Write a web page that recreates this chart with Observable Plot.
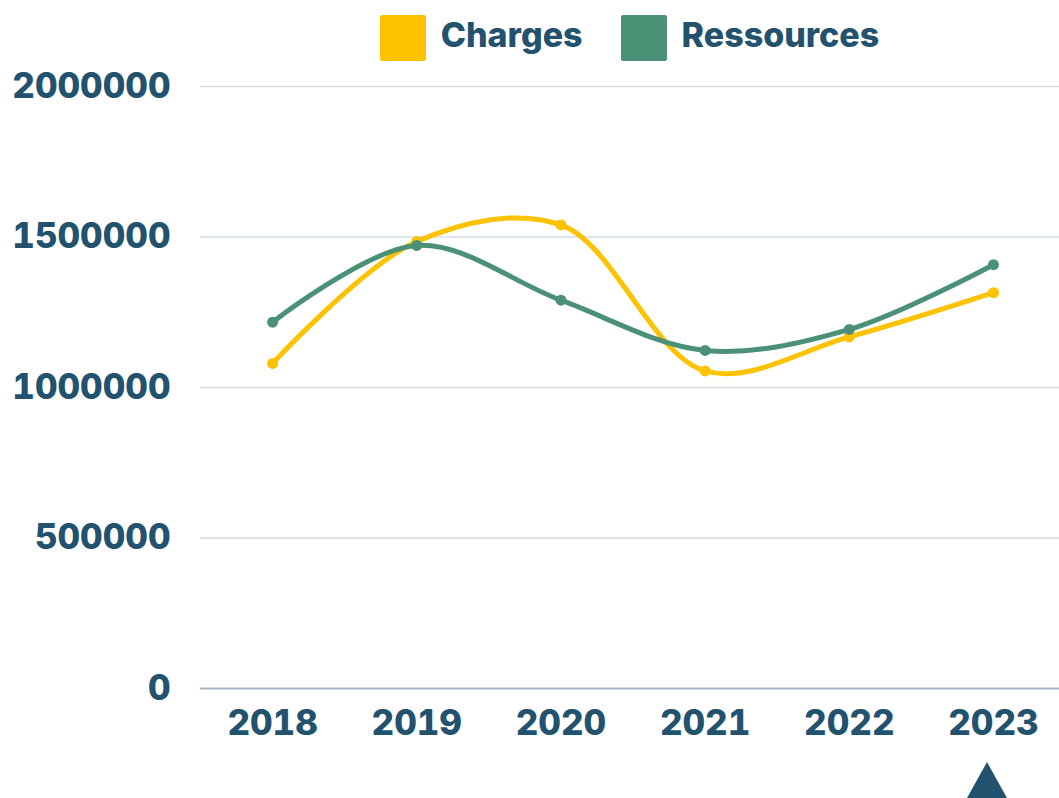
<!DOCTYPE html>
<html>
<head>
<meta charset="utf-8">
<script src="https://cdn.jsdelivr.net/npm/d3@7"></script>
<script src="https://cdn.jsdelivr.net/npm/@observablehq/plot@0.6"></script>
<style>
  html, body { margin: 0; padding: 0; background: #fff; overflow: hidden; }
  body { width: 1059px; height: 798px; position: relative; font-family: Inter, sans-serif; }
  #legend { position: absolute; left: 200px; right: 0; top: 0; height: 75px; display: flex; justify-content: center; align-items: flex-start; box-sizing: border-box; padding-top: 15px; }
  .item { display: flex; align-items: center; margin: 0 19px; }
  .sw { width: 46px; height: 46px; border-radius: 2px; margin-right: 15px; }
  .lab { font-size: 34px; font-weight: 800; color: #23526f; line-height: 40px; margin-top: -6px; }
  #caret { position: absolute; left: 967px; top: 762px; width: 0; height: 0;
    border-left: 20px solid transparent; border-right: 20px solid transparent; border-bottom: 36px solid #23526f; }
</style>
</head>
<body>
<div id="chart"></div>
<div id="legend"></div>
<div id="caret"></div>
<script>
const years = [2018, 2019, 2020, 2021, 2022, 2023];
const charges = [1080000, 1485000, 1540000, 1055000, 1168000, 1315000];
const ressources = [1217000, 1472000, 1290000, 1123000, 1193000, 1408000];
const seriesNames = ["Charges", "Ressources"];
const seriesColors = ["#fdc300", "#4a9176"];
const yTicks = [0, 500000, 1000000, 1500000, 2000000];

const data = [];
years.forEach((yr, i) => {
  data.push({year: yr, value: charges[i], series: seriesNames[0]});
  data.push({year: yr, value: ressources[i], series: seriesNames[1]});
});

const legend = document.getElementById("legend");
seriesNames.forEach((n, i) => {
  const it = document.createElement("div");
  it.className = "item";
  it.innerHTML = `<div class="sw" style="background:${seriesColors[i]}"></div><div class="lab">${n}</div>`;
  legend.appendChild(it);
});

const textColor = "#23526f";
const chart = Plot.plot({
  width: 1059,
  height: 798,
  marginTop: 86,
  marginBottom: 110,
  marginLeft: 200,
  marginRight: 0,
  style: {fontFamily: "Inter, sans-serif", fontSize: "35px", fontWeight: 800, color: textColor, background: "#fff"},
  x: {domain: [2017.5, 2023.458], ticks: years, tickFormat: d => String(d), tickSize: 0, tickPadding: 22, label: null},
  y: {domain: [0, 2000000], ticks: yTicks, tickFormat: d => String(d), tickSize: 0, tickPadding: 30, label: null},
  color: {domain: seriesNames, range: seriesColors},
  marks: [
    Plot.gridY(yTicks.filter(d => d > 0), {stroke: "#d3dce3", strokeOpacity: 1, strokeWidth: 1.5}),
    Plot.ruleY([0], {stroke: "#a9b8c6", strokeWidth: 2}),
    Plot.line(data, {x: "year", y: "value", z: "series", stroke: "series", strokeWidth: 5, curve: "catmull-rom"}),
    Plot.dot(data, {x: "year", y: "value", fill: "series", r: 5.5})
  ]
});
document.getElementById("chart").appendChild(chart);
</script>
</body>
</html>
